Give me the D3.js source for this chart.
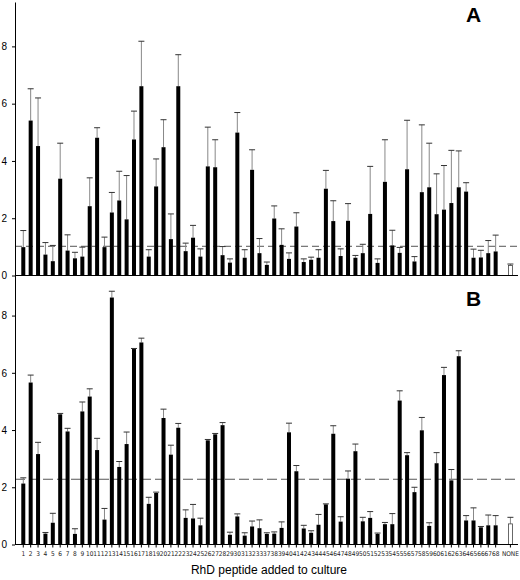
<!DOCTYPE html>
<html lang="en">
<head>
  <meta charset="UTF-8">
  <title>RhD peptide added to culture</title>
  <script src="https://d3js.org/d3.v7.min.js"></script>
  <style>
    body { margin: 0; background: #fff; }
    svg { display: block; font-family: "Liberation Sans", Arial, sans-serif; }
  </style>
</head>
<body>
  <svg width="520" height="580"></svg>

  <script>
    // peptide numbers on the x axis (34-36 are missing in the original), then the control
    const peptides = ["1","2","3","4","5","6","7","8","9","10","11","12","13","14","15","16","17",
      "18","19","20","21","22","23","24","25","26","27","28","29","30","31","32","33","37","38",
      "39","40","41","42","43","44","45","46","47","48","49","50","51","52","53","54","55","56",
      "57","58","59","60","61","62","63","64","65","66","67","68","NONE"];

    // panel A: mean and top of error bar
    const aMean = [0.99,5.41,4.52,0.73,0.5,3.38,0.87,0.6,0.66,2.42,4.81,0.99,2.2,2.62,1.96,4.75,6.61,
      0.66,3.11,4.48,1.27,6.61,0.85,1.32,0.66,3.81,3.78,0.71,0.45,4.99,0.62,3.69,0.78,0.37,1.99,
      1.07,0.58,1.71,0.47,0.55,0.62,3.03,1.9,0.68,1.91,0.62,0.78,2.15,0.44,3.27,1.05,0.79,3.71,
      0.49,2.91,3.08,2.14,2.3,2.53,3.08,2.93,0.62,0.63,0.78,0.84,0.35];
    const aUpper = [1.57,6.52,6.2,1.15,1.05,4.62,1.42,0.81,0.99,3.41,5.16,1.34,2.9,3.64,3.49,5.74,8.18,
      0.9,4.07,5.44,2.15,7.71,1.13,1.75,0.93,5.18,4.74,1.01,0.58,5.69,0.9,4.39,1.29,0.47,2.43,
      1.63,0.79,2.19,0.58,0.64,0.9,3.67,2.61,0.93,2.51,0.7,1.09,3.81,0.58,4.74,1.58,0.98,5.42,
      0.66,5.26,4.62,3.55,3.84,4.37,4.35,3.24,0.92,0.88,1.22,1.41,0.4];

    // panel B
    const bMean = [2.13,5.66,3.16,0.38,0.76,4.55,3.95,0.37,4.65,5.17,3.3,0.87,8.63,2.71,3.51,6.83,7.06,
      1.42,1.8,4.42,3.14,4.08,0.93,0.91,0.67,3.64,3.85,4.17,0.34,0.98,0.31,0.63,0.57,0.37,0.38,
      0.58,3.92,2.56,0.56,0.41,0.69,1.4,3.87,0.8,2.3,3.26,0.81,0.93,0.37,0.71,0.71,5.03,3.12,
      1.83,3.99,0.65,2.84,5.92,2.24,6.58,0.84,0.84,0.6,0.67,0.67,0.72];
    const bUpper = [2.33,5.92,3.57,0.42,1.09,4.58,4.06,0.55,4.98,5.44,3.71,1.26,8.85,2.9,3.93,6.85,7.21,
      1.65,1.83,4.73,3.47,4.23,1.21,1.4,0.92,3.67,3.88,4.26,0.43,1.07,0.41,0.82,0.86,0.41,0.44,
      0.79,4.24,2.76,0.67,0.48,1.05,1.42,4.15,0.97,2.57,3.51,0.95,1.15,0.4,0.77,1.08,5.37,3.21,
      2.0,4.44,0.76,3.21,6.19,2.62,6.77,1.01,1.28,0.63,1.03,1.01,0.95];

    const yTicks = [0, 2, 4, 6, 8];
    const aCutoff = 1.02, bCutoff = 2.28;

    const svg = d3.select("svg");
    const axisX = 15, rightX = 518, barW = 4;

    // one empty slot sits between 68 and NONE
    const slots = [...peptides.slice(0, -1), "gap", "NONE"];
    const x = d3.scaleBand().domain(slots).range([19.6, 514.1]);
    const cx = k => x(k) + x.bandwidth() / 2;

    function drawPanel(mean, upper, yScale, cutoff, dash, letter, letterY) {
      const data = peptides.map((p, i) => ({ p, m: mean[i], u: upper[i] }));
      const g = svg.append("g");
      const y0 = yScale(0);

      // cutoff line
      g.append("line")
        .attr("x1", axisX).attr("x2", rightX)
        .attr("y1", yScale(cutoff)).attr("y2", yScale(cutoff))
        .attr("stroke", "#555").attr("stroke-dasharray", dash);

      // error bars
      g.selectAll(".err").data(data).enter().append("line")
        .attr("x1", d => cx(d.p)).attr("x2", d => cx(d.p))
        .attr("y1", d => yScale(d.m)).attr("y2", d => yScale(d.u))
        .attr("stroke", "#888").attr("stroke-width", 1);
      g.selectAll(".cap").data(data).enter().append("line")
        .attr("x1", d => cx(d.p) - 3).attr("x2", d => cx(d.p) + 3)
        .attr("y1", d => yScale(d.u)).attr("y2", d => yScale(d.u))
        .attr("stroke", "#333").attr("stroke-width", 1);

      // bars
      g.selectAll(".bar").data(data).enter().append("rect")
        .attr("x", d => cx(d.p) - barW / 2)
        .attr("y", d => yScale(d.m))
        .attr("width", barW)
        .attr("height", d => y0 - yScale(d.m))
        .attr("fill", d => d.p === "NONE" ? "#fff" : "#000")
        .attr("stroke", d => d.p === "NONE" ? "#444" : "none")
        .attr("stroke-width", 0.8);

      // x baseline
      g.append("line")
        .attr("x1", axisX).attr("x2", rightX)
        .attr("y1", y0).attr("y2", y0)
        .attr("stroke", "#000");

      // y axis
      svg.append("g")
        .attr("transform", `translate(${axisX},0)`)
        .call(d3.axisLeft(yScale).tickValues(yTicks).tickSize(3).tickSizeOuter(0).tickPadding(5))
        .call(a => a.select(".domain").attr("stroke", "#000"))
        .call(a => a.selectAll("text").attr("font-size", 10).attr("font-family", "Liberation Sans, Arial, sans-serif"));

      svg.append("text")
        .attr("x", 466).attr("y", letterY)
        .attr("font-size", 21).attr("font-weight", "bold")
        .text(letter);
    }

    const yA = d3.scaleLinear().domain([0, 9.55]).range([275.5, 2]);
    const yB = d3.scaleLinear().domain([0, 9.4]).range([544.5, 275.5]);

    drawPanel(aMean, aUpper, yA, aCutoff, "7,4", "A", 22);
    drawPanel(bMean, bUpper, yB, bCutoff, "10,4", "B", 306);

    // bottom x ticks and labels
    const xAxis = svg.append("g").attr("transform", `translate(0,${yB(0)})`);
    xAxis.selectAll("line").data(peptides).enter().append("line")
      .attr("x1", d => cx(d)).attr("x2", d => cx(d))
      .attr("y1", 0).attr("y2", 3)
      .attr("stroke", "#000");
    xAxis.selectAll("text").data(peptides).enter().append("text")
      .attr("x", d => cx(d)).attr("y", 11.5)
      .attr("text-anchor", "middle")
      .attr("font-size", 6.5)
      .attr("font-family", "Liberation Sans Narrow, DejaVu Sans Condensed, sans-serif")
      .attr("fill", "#222")
      .text(d => d);

    svg.append("text")
      .attr("x", 269).attr("y", 574)
      .attr("text-anchor", "middle")
      .attr("font-size", 12)
      .text("RhD peptide added to culture");
  </script>
</body>
</html>
